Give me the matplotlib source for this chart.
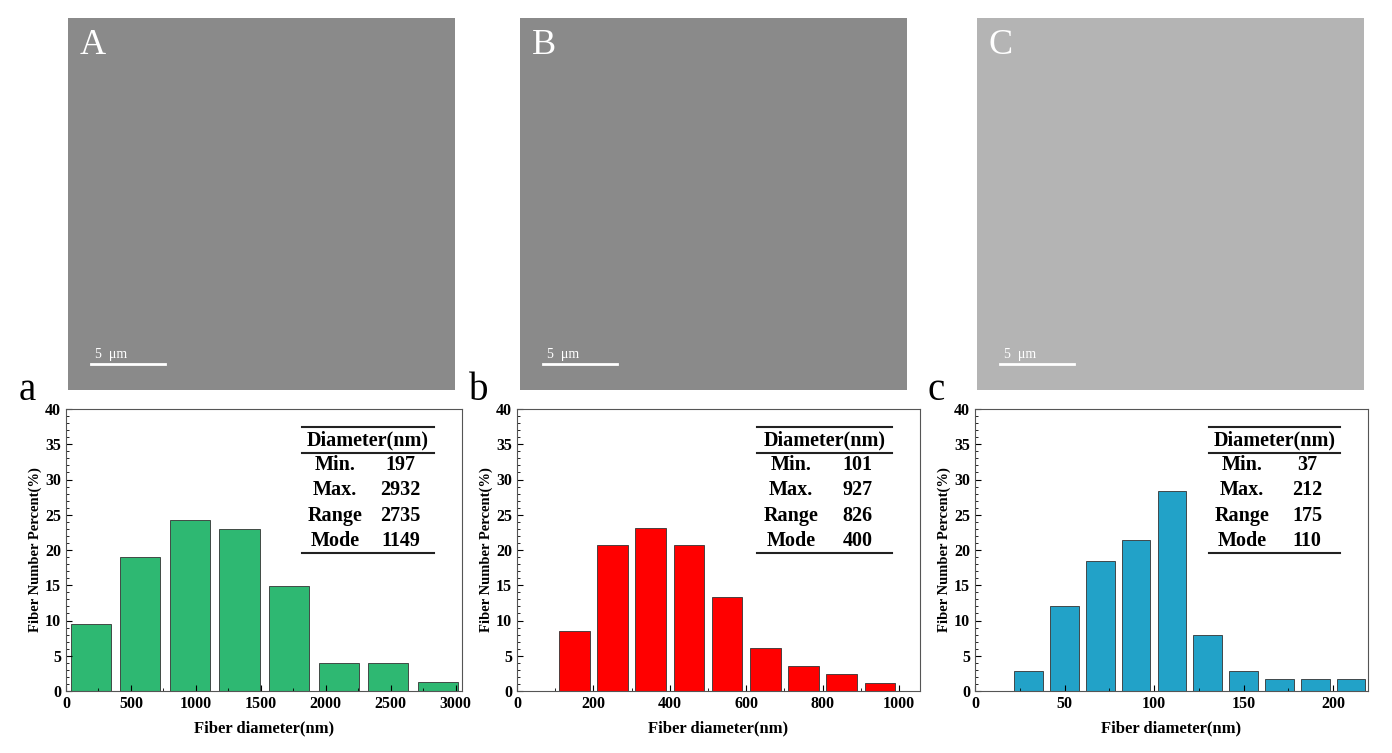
import matplotlib
matplotlib.use("Agg")
import matplotlib.pyplot as plt
from matplotlib.ticker import MultipleLocator

plt.rcParams["font.family"] = "Liberation Serif"
plt.rcParams["font.weight"] = "bold"

# ---- data ----
a_centers = [190, 572, 954, 1336, 1718, 2100, 2482, 2864]
a_values = [9.5, 19.0, 24.3, 23.0, 14.9, 4.0, 4.0, 1.3]
b_centers = [150, 250, 350, 450, 550, 650, 750, 850, 950]
b_values = [8.5, 20.7, 23.1, 20.7, 13.4, 6.1, 3.6, 2.4, 1.2]
c_centers = [30, 50, 70, 90, 110, 130, 150, 170, 190, 210]
c_values = [2.8, 12.0, 18.5, 21.4, 28.3, 8.0, 2.8, 1.7, 1.7, 1.7]

stats_labels = ["Min.", "Max.", "Range", "Mode"]
a_stats = ["197", "2932", "2735", "1149"]
b_stats = ["101", "927", "826", "400"]
c_stats = ["37", "212", "175", "110"]

W, H = 1392, 753
fig = plt.figure(figsize=(W / 100, H / 100), dpi=100)


def px_axes(x0, y0, x1, y1):
    return fig.add_axes([x0 / W, 1 - y1 / H, (x1 - x0) / W, (y1 - y0) / H])


# ---- image placeholders (TEM micrographs) ----
for (x0, x1), letter in zip([(68, 455), (520, 907), (977, 1364)], ["A", "B", "C"]):
    ax = px_axes(x0, 18, x1, 390)
    ax.set_facecolor("#8a8a8a" if letter != "C" else "#b4b4b4")
    ax.set_xlim(0, 1)
    ax.set_ylim(0, 1)
    ax.set_xticks([])
    ax.set_yticks([])
    for s in ax.spines.values():
        s.set_visible(False)
    ax.text(0.03, 0.97, letter, color="white", fontsize=26, fontweight="normal",
            va="top", ha="left")
    ax.plot([0.06, 0.25], [0.07, 0.07], color="white", lw=2)
    ax.text(0.07, 0.085, "5  μm", color="white", fontsize=10, fontweight="normal")


def hist_panel(x0, x1, centers, values, width, color, xlim, major, minor, stats, tag):
    ax = px_axes(x0, 409, x1, 691)
    ax.bar(centers, values, width=width, color=color, edgecolor="#333333", linewidth=0.6)
    ax.set_xlim(*xlim)
    ax.set_ylim(0, 40)
    ax.xaxis.set_major_locator(MultipleLocator(major))
    ax.xaxis.set_minor_locator(MultipleLocator(minor))
    ax.yaxis.set_major_locator(MultipleLocator(5))
    ax.yaxis.set_minor_locator(MultipleLocator(1))
    ax.tick_params(which="both", direction="in", labelsize=11.5)
    ax.tick_params(which="major", length=4)
    ax.tick_params(which="minor", length=2)
    for s in ax.spines.values():
        s.set_color("#555555")
    ax.set_xlabel("Fiber diameter(nm)", fontsize=12, fontweight="bold", labelpad=6)
    ax.set_ylabel("Fiber Number Percent(%)", fontsize=10.5, fontweight="bold", labelpad=2)
    ax.text(-0.12, 1.0, tag, transform=ax.transAxes, fontsize=28, fontweight="normal",
            va="bottom", ha="left")

    # stats table
    tx0, tx1 = 0.595, 0.93
    ax.plot([tx0, tx1], [0.935, 0.935], transform=ax.transAxes, color="#222222", lw=1.5)
    ax.plot([tx0, tx1], [0.845, 0.845], transform=ax.transAxes, color="#222222", lw=1.5)
    ax.plot([tx0, tx1], [0.49, 0.49], transform=ax.transAxes, color="#222222", lw=1.5)
    ax.text((tx0 + tx1) / 2, 0.89, "Diameter(nm)", transform=ax.transAxes,
            ha="center", va="center", fontsize=14.5)
    for i, (lab, val) in enumerate(zip(stats_labels, stats)):
        y = 0.80 - i * 0.089
        ax.text(0.68, y, lab, transform=ax.transAxes, ha="center", va="center", fontsize=14.5)
        ax.text(0.845, y, val, transform=ax.transAxes, ha="center", va="center", fontsize=14.5)
    return ax


hist_panel(66, 462, a_centers, a_values, 310, "#2eb872", (0, 3050), 500, 250, a_stats, "a")
hist_panel(517, 920, b_centers, b_values, 80, "#ff0000", (0, 1055), 200, 100, b_stats, "b")
hist_panel(975, 1368, c_centers, c_values, 16, "#22a2c8", (0, 219.5), 50, 25, c_stats, "c")

fig.savefig("out.png", dpi=100)
